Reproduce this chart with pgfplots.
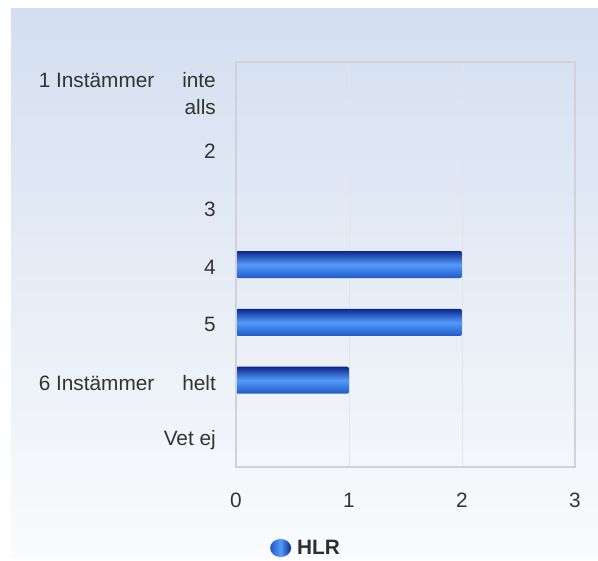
\documentclass[border=0pt]{standalone}
\usepackage{pgfplots}
\pgfplotsset{compat=1.18}
\usepackage{fontspec}
\setmainfont{Liberation Sans}
\definecolor{bgtop}{RGB}{211,223,240}
\definecolor{bgbot}{RGB}{250,251,253}
\definecolor{txt}{RGB}{51,51,51}
\definecolor{gridc}{RGB}{226,228,232}
\definecolor{framec}{RGB}{208,210,214}
\definecolor{bardark}{RGB}{10,40,140}
\definecolor{barmid}{RGB}{85,155,250}
\definecolor{barbot}{RGB}{30,90,200}
\begin{document}
\begin{tikzpicture}
\fill[white] (0bp,0bp) rectangle (598bp,561bp);
\shade[top color=bgtop, bottom color=bgbot] (11bp,3bp) rectangle (598bp,552bp);
\begin{axis}[
  at={(236bp,94bp)}, anchor=south west,
  scale only axis, width=339bp, height=405bp,
  xmin=0, xmax=3, ymin=-0.5, ymax=6.5, y dir=reverse,
  ytick={0,...,6},
  yticklabels={{\makebox[177bp]{1 Instämmer\hfill inte}\\alls},2,3,4,5,{\makebox[177bp]{6 Instämmer\hfill helt}},Vet ej},
  xtick={0,1,2,3},
  major tick length=0pt,
  axis line style={draw=framec, line width=1.2bp},
  xmajorgrids, grid style={draw=gridc, line width=1bp},
  /pgf/number format/assume math mode=true,
  ticklabel style={font=\fontsize{20.8bp}{27bp}\selectfont, text=txt},
  yticklabel style={align=right, inner sep=0pt, xshift=-20bp, yshift=-2.5bp},
  xticklabel style={inner sep=0pt, yshift=-26bp},
  legend style={at={(0.2065,-0.2)}, anchor=center, draw=none, fill=none,
    font=\fontsize{20.8bp}{24bp}\selectfont\bfseries, text=txt!90!black},
  legend image code/.code={\shade[left color=barbot, right color=bardark, middle color=barmid] (4bp,0bp) ellipse [x radius=10.5bp, y radius=9bp];},
  restrict x to domain=0.001:10,
  barstyle/.style={xbar, bar width=27bp, bar shift=0pt, draw=none, top color=bardark, bottom color=barbot, middle color=barmid, rounded corners=2bp},
]
\addplot[barstyle] coordinates {(2,3)};
\addlegendentry{\hspace{4bp}HLR}
\addplot[barstyle, forget plot] coordinates {(0,0)};
\addplot[barstyle, forget plot] coordinates {(0,1)};
\addplot[barstyle, forget plot] coordinates {(0,2)};
\addplot[barstyle, forget plot] coordinates {(2,4)};
\addplot[barstyle, forget plot] coordinates {(1,5)};
\addplot[barstyle, forget plot] coordinates {(0,6)};
\draw[framec, line width=1.8bp] (axis cs:0,-0.5) -- (axis cs:0,6.5);
\end{axis}
\end{tikzpicture}
\end{document}
